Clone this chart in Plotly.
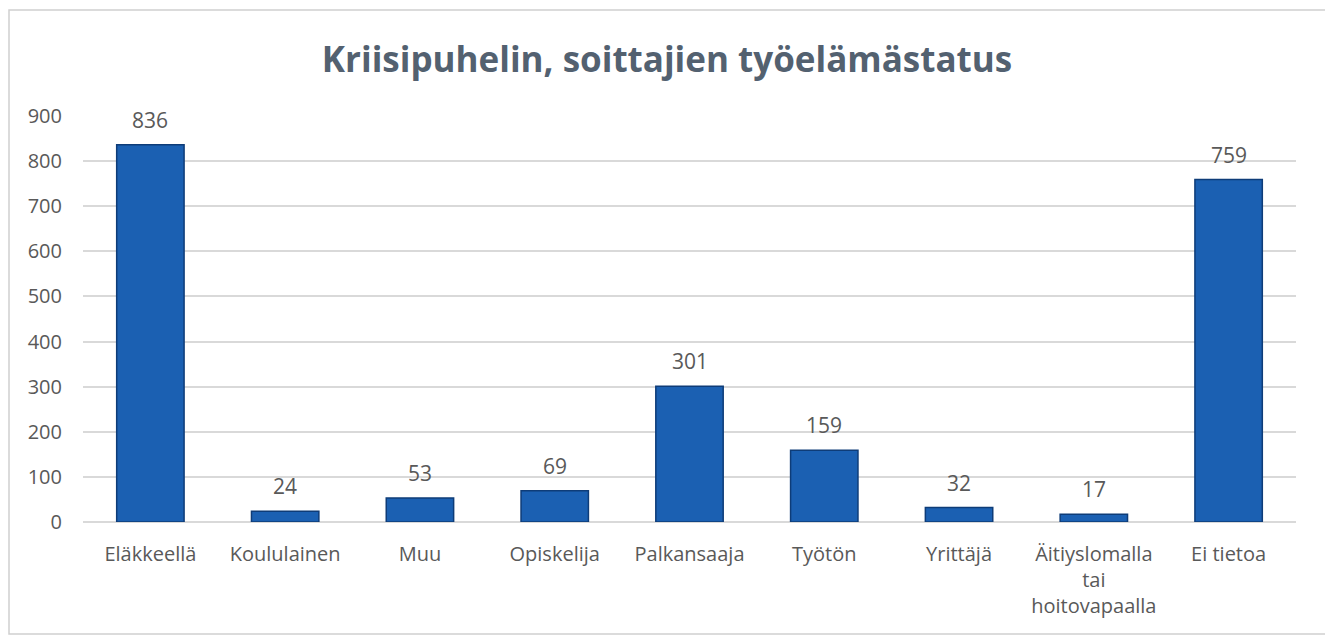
import plotly.graph_objects as go

categories = ["Eläkkeellä", "Koululainen", "Muu", "Opiskelija", "Palkansaaja",
              "Työtön", "Yrittäjä", "Äitiyslomalla<br>tai<br>hoitovapaalla", "Ei tietoa"]
values = [836, 24, 53, 69, 301, 159, 32, 17, 759]
y_ticks = [0, 100, 200, 300, 400, 500, 600, 700, 800, 900]

OFF = 8  # page body margin
W, H = 1333 - OFF, 637 - OFF
L, R, T, B = 83 - OFF, 37, 116 - OFF, 115
pw, ph = W - L - R, H - T - B

def px_x(x):
    return (x - OFF - L) / pw

def px_y(y):
    return (H - B - (y - OFF)) / ph

text_color = "#595959"
font_family = "'Open Sans', Lato, 'Liberation Sans', sans-serif"

fig = go.Figure()
fig.add_trace(go.Bar(
    x=categories, y=values,
    marker=dict(color="#1b60b2", line=dict(color="#0e3c78", width=1.5)),
))

for c, v in zip(categories, values):
    fig.add_annotation(x=c, y=v, text=str(v), showarrow=False,
                       yanchor="bottom", yshift=9,
                       font=dict(size=21, color=text_color, family=font_family))

fig.update_layout(
    width=W, height=H,
    margin=dict(l=L, r=R, t=T, b=B),
    paper_bgcolor="white", plot_bgcolor="white",
    bargap=0.5, showlegend=False,
    title=dict(text="<b>Kriisipuhelin, soittajien työelämästatus</b>",
               xref="container", yref="container",
               x=(667 - OFF) / W, xanchor="center", y=1 - (60 - OFF) / H, yanchor="middle",
               font=dict(size=35, color="#536170", family=font_family)),
    font=dict(family=font_family, color=text_color, size=20),
    xaxis=dict(showgrid=False, showline=False, ticks="",
               tickfont=dict(size=20, color=text_color), ticklabelstandoff=18,
               automargin=False),
    yaxis=dict(range=[0, 900], tickvals=y_ticks, showgrid=True,
               gridcolor="#d9d9d9", gridwidth=1.5, zeroline=True,
               zerolinecolor="#d9d9d9", zerolinewidth=1.5,
               tickfont=dict(size=20, color=text_color), ticklabelstandoff=20,
               automargin=False),
    shapes=[dict(type="rect", xref="paper", yref="paper",
                 x0=px_x(9), x1=px_x(1327), y0=px_y(634), y1=px_y(10),
                 line=dict(color="#d0d0d0", width=1.5), fillcolor="rgba(0,0,0,0)",
                 layer="below")],
)

fig.write_html("out.html")
